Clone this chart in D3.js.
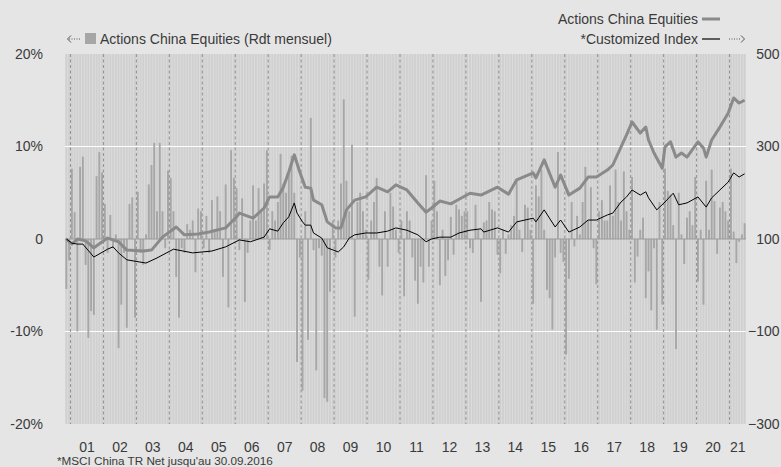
<!DOCTYPE html>
<html><head><meta charset="utf-8">
<script src="https://cdn.jsdelivr.net/npm/d3@7"></script>
<style>
body{margin:0;background:#e5e5e5;}
svg{display:block;font-family:"Liberation Sans",Arial,Helvetica,sans-serif;}
</style></head>
<body><svg id="c" width="781" height="467"></svg>
<script>
// Monthly returns (%) of Actions China Equities, Nov 2000 - Jun 2021
const rdt2000 = [-5.4, -2.3];
const rdt2001 = [7.6, 2.9, -10.0, 7.8, 8.9, -2.8, -10.7, -7.8, -8.2, 6.8, 9.4, 7.2];
const rdt2002 = [3.8, -1.5, 2.6, -1.0, 0.5, -11.8, -7.1, -1.5, -9.6, 3.8, 4.5, -8.5];
const rdt2003 = [5.1, -1.5, -2.8, 0.5, 5.9, 8.0, 10.4, 3.0, 10.4, 3.0, -1.0, 7.4];
const rdt2004 = [6.6, 3.0, -4.1, -8.5, -1.0, -1.5, 1.6, 1.0, 2.0, -3.6, 3.3, 3.0];
const rdt2005 = [-1.0, 2.5, -1.5, 4.2, 1.0, 4.6, 3.0, -4.1, 5.9, -7.4, 9.6, 6.6];
const rdt2006 = [5.5, -1.2, 4.4, -6.8, -1.5, 2.0, 5.8, 2.0, 5.5, 3.0, 6.0, 9.6];
const rdt2007 = [-1.2, 3.0, 2.0, 4.0, 9.2, 6.0, 5.0, 7.0, 9.0, 5.0, -13.3, -2.0];
const rdt2008 = [-16.4, 3.0, -10.9, 13.1, -1.2, -14.2, -1.0, -1.8, -17.2, -17.6, -5.7, 2.0];
const rdt2009 = [-2.0, 2.0, 6.0, 15.1, 6.3, 3.0, 10.2, -8.4, 4.0, 5.0, 3.0, 1.0];
const rdt2010 = [-4.4, 2.0, 4.0, 6.6, -3.0, -6.1, 3.0, -3.0, 5.0, 3.5, 1.0, -1.5];
const rdt2011 = [2.0, -6.2, 3.0, 2.0, -2.0, -4.5, -7.0, -3.0, -4.7, 6.9, -3.0, 2.0];
const rdt2012 = [6.3, 3.0, -5.0, 1.0, -4.0, -2.3, 2.4, -1.7, 3.7, 3.2, 2.5, 3.0];
const rdt2013 = [3.0, -1.0, -1.5, 3.7, 1.0, -6.8, 1.8, 2.0, 4.0, 3.2, 3.0, -1.7];
const rdt2014 = [-3.7, 1.0, -1.6, 0.5, 1.5, 2.5, 6.5, 1.0, -1.4, 3.7, 3.4, 1.0];
const rdt2015 = [-7.0, 5.8, 4.6, 7.5, 1.0, -5.5, -6.4, -9.8, -2.0, 9.4, -1.5, -2.5];
const rdt2016 = [-12.5, -4.3, 4.0, -0.8, 2.5, 0.5, 4.0, 7.8, 2.0, 5.6, -1.0, -4.9];
const rdt2017 = [3.0, 4.2, 2.0, 2.0, 5.8, 2.5, 7.5, 4.0, 2.0, 7.3, 3.0, 1.0];
const rdt2018 = [6.7, -4.7, -1.9, 1.0, 2.3, -6.4, -3.5, -7.7, -1.0, -9.8, 4.0, -7.1];
const rdt2019 = [7.6, 5.2, 4.8, 1.5, -11.9, 5.0, 0.5, -2.7, 2.3, 3.0, 1.5, 6.7];
const rdt2020 = [-4.6, 1.0, -7.1, 6.3, 1.0, 7.5, 4.1, -1.6, 3.4, 4.0, 3.0, 2.0];
const rdt2021 = [7.6, 0.8, -2.6, -0.3, 0.5, 1.7];

// Index lines (base 100), values read at given months
const fundDates = ["2000-11","2001-01","2001-03","2001-06","2001-09","2002-02","2002-06","2002-09","2003-03","2003-06","2003-10","2004-03","2004-06","2004-11","2005-03","2005-09","2006-01","2006-02","2006-07","2006-11","2007-01","2007-04","2007-06","2007-08","2007-10","2007-12","2008-02","2008-04","2008-05","2008-08","2008-10","2009-01","2009-03","2009-05","2009-08","2009-12","2010-04","2010-08","2010-11","2011-03","2011-07","2011-10","2011-12","2012-03","2012-07","2012-10","2013-02","2013-06","2013-12","2014-04","2014-07","2015-01","2015-02","2015-05","2015-09","2015-11","2016-02","2016-06","2016-09","2016-12","2017-04","2017-06","2017-09","2017-11","2018-01","2018-04","2018-06","2018-07","2018-09","2018-12","2019-01","2019-03","2019-05","2019-07","2019-09","2020-01","2020-03","2020-04","2020-06","2020-09","2020-12","2021-02","2021-04","2021-06"];
const fundValues = [100,89,100,96,81,102,94,76,74,76,104,126,109,111,115,124,148,156,145,167,191,191,212,245,282,245,212,210,184,174,137,124,124,163,184,191,212,202,217,206,178,158,167,182,176,186,199,195,212,197,228,243,232,271,212,238,195,210,234,234,249,260,299,325,353,329,342,314,286,253,299,310,277,286,277,310,297,277,314,342,372,405,394,400];
const indexDates = ["2000-11","2001-01","2001-03","2001-05","2001-09","2002-02","2002-04","2002-06","2002-09","2003-04","2003-08","2004-02","2004-09","2005-04","2005-09","2006-02","2006-06","2006-11","2007-01","2007-04","2007-06","2007-08","2007-10","2007-11","2008-01","2008-02","2008-04","2008-05","2008-08","2008-10","2009-02","2009-04","2009-06","2009-08","2009-12","2010-04","2010-08","2010-11","2011-03","2011-07","2011-10","2011-12","2012-03","2012-07","2012-10","2013-02","2013-06","2013-07","2013-12","2014-04","2014-07","2015-01","2015-02","2015-05","2015-09","2015-11","2016-02","2016-06","2016-09","2016-12","2017-04","2017-06","2017-09","2017-11","2018-01","2018-04","2018-06","2018-07","2018-10","2019-01","2019-04","2019-06","2019-09","2020-01","2020-04","2020-06","2020-09","2020-12","2021-02","2021-04","2021-06"];
const indexValues = [100,91,89,89,61,78,83,70,55,48,59,78,70,74,83,98,94,104,122,117,135,148,178,156,137,130,130,113,102,81,72,83,102,109,113,113,117,124,119,109,94,100,104,104,113,119,122,115,124,115,137,145,137,163,126,141,115,126,141,141,152,156,180,191,206,195,202,189,163,180,199,174,178,191,169,189,206,223,243,234,241];

const leftTicks = [-20, -10, 0, 10, 20];
const rightTicks = [-300, -100, 100, 300, 500];
const yearLabels = ["01","02","03","04","05","06","07","08","09","10","11","12","13","14","15","16","17","18","19","20","21"];

// ---------- build
const years = [rdt2000,rdt2001,rdt2002,rdt2003,rdt2004,rdt2005,rdt2006,rdt2007,rdt2008,rdt2009,rdt2010,rdt2011,rdt2012,rdt2013,rdt2014,rdt2015,rdt2016,rdt2017,rdt2018,rdt2019,rdt2020,rdt2021];
const data = [];
years.forEach((arr, k) => {
  const yr = 2000 + k, m0 = k === 0 ? 10 : 0;
  arr.forEach((v, j) => data.push({yr, m: m0 + j, v}));
});
const idxOf = s => { const [y, m] = s.split("-").map(Number); return (y - 2000) * 12 + (m - 1) - 10; };

const svg = d3.select("#c");
const L = 65, R = 746, T = 54, B = 424;
const x = d3.scaleBand().domain(d3.range(data.length)).range([L, R]).paddingInner(0.3).paddingOuter(0.15);
const yL = d3.scaleLinear().domain([-20, 20]).range([B, T]);
const yR = d3.scaleLinear().domain([-300, 500]).range([B, T]);
const cx = i => x(i) + x.bandwidth() / 2;
const step = x.step();
const FS = 14;

// plot background
svg.append("rect").attr("x", L).attr("y", T).attr("width", R - L).attr("height", B - T).attr("fill", "#dedede");
svg.append("g").selectAll("rect").data(data).join("rect")
  .attr("x", (d, i) => x(i)).attr("width", x.bandwidth())
  .attr("y", T).attr("height", B - T).attr("fill", "#d0d0d0");

// grid
svg.append("g").selectAll("line").data([-10, 10]).join("line")
  .attr("x1", L).attr("x2", R).attr("y1", d => yL(d)).attr("y2", d => yL(d))
  .attr("stroke", "#fff").attr("stroke-width", 1);

// bars
svg.append("g").selectAll("rect").data(data).join("rect")
  .attr("x", (d, i) => x(i)).attr("width", x.bandwidth())
  .attr("y", d => yL(Math.max(0, d.v))).attr("height", d => Math.abs(yL(d.v) - yL(0)))
  .attr("fill", "#a6a6a6");

// year separators
const janIdx = data.map((d, i) => d.m === 0 ? i : -1).filter(i => i > 0);
const sepX = i => x(i) - step * 0.15;
svg.append("g").selectAll("line").data(janIdx).join("line")
  .attr("x1", sepX).attr("x2", sepX).attr("y1", T).attr("y2", B)
  .attr("stroke", "#8a8a8a").attr("stroke-width", 0.9).attr("stroke-dasharray", "3,2.5");

// zero line
svg.append("line").attr("x1", L).attr("x2", R).attr("y1", yL(0)).attr("y2", yL(0))
  .attr("stroke", "#999").attr("stroke-width", 1.2);

// lines
const lineGen = d3.line().x(d => cx(d[0])).y(d => yR(d[1]));
svg.append("path").datum(fundDates.map((s, k) => [idxOf(s), fundValues[k]]))
  .attr("d", lineGen).attr("fill", "none").attr("stroke", "#8a8a8a").attr("stroke-width", 3).attr("stroke-linejoin", "round");
svg.append("path").datum(indexDates.map((s, k) => [idxOf(s), indexValues[k]]))
  .attr("d", lineGen).attr("fill", "none").attr("stroke", "#000").attr("stroke-width", 1).attr("stroke-linejoin", "round");

// axes
const txt = "#3a3a3a";
const gl = svg.append("g").attr("transform", "translate(43,0)")
  .call(d3.axisLeft(yL).tickValues(leftTicks).tickSize(0).tickPadding(0).tickFormat(d => d === 0 ? "0" : d + "%"));
gl.select(".domain").remove();
gl.selectAll("text").attr("font-size", FS).attr("fill", txt).attr("font-family", "Liberation Sans, Arial, sans-serif");
const gr = svg.append("g").attr("transform", "translate(779.5,0)")
  .call(d3.axisRight(yR).tickValues(rightTicks).tickSize(0).tickPadding(0));
gr.select(".domain").remove();
gr.selectAll("text").attr("font-size", FS).attr("fill", txt).attr("text-anchor", "end").attr("font-family", "Liberation Sans, Arial, sans-serif");

// year labels
const bounds = [L, ...janIdx.map(sepX), R];
svg.append("g").selectAll("text").data(yearLabels).join("text")
  .attr("x", (d, k) => (bounds[k + 1] + bounds[k + 2]) / 2).attr("y", 452)
  .attr("text-anchor", "middle").attr("font-size", FS).attr("fill", txt).text(d => d);

// footnote
svg.append("text").attr("x", 57).attr("y", 465).attr("font-size", 11.7).attr("fill", txt)
  .text("*MSCI China TR Net jusqu'au 30.09.2016");

// legend left
const lg = svg.append("g");
lg.append("path").attr("d", "M71,35.5 L67.5,39 L71,42.5").attr("fill", "none").attr("stroke", "#555").attr("stroke-width", 1);
lg.append("line").attr("x1", 69).attr("x2", 80).attr("y1", 39).attr("y2", 39).attr("stroke", "#555").attr("stroke-width", 1).attr("stroke-dasharray", "1,1.5");
lg.append("rect").attr("x", 85).attr("y", 33).attr("width", 11).attr("height", 11).attr("fill", "#a6a6a6");
lg.append("text").attr("x", 100).attr("y", 44).attr("font-size", FS).attr("fill", txt).text("Actions China Equities (Rdt mensuel)");

// legend right
const rg = svg.append("g");
rg.append("text").attr("x", 698).attr("y", 23.5).attr("text-anchor", "end").attr("font-size", FS).attr("fill", txt).text("Actions China Equities");
rg.append("line").attr("x1", 702).attr("x2", 720).attr("y1", 19).attr("y2", 19).attr("stroke", "#8a8a8a").attr("stroke-width", 3);
rg.append("text").attr("x", 698).attr("y", 43.5).attr("text-anchor", "end").attr("font-size", FS).attr("fill", txt).text("*Customized Index");
rg.append("line").attr("x1", 702).attr("x2", 720).attr("y1", 39).attr("y2", 39).attr("stroke", "#000").attr("stroke-width", 1.2);
rg.append("line").attr("x1", 729).attr("x2", 741).attr("y1", 39).attr("y2", 39).attr("stroke", "#555").attr("stroke-width", 1).attr("stroke-dasharray", "1,1.5");
rg.append("path").attr("d", "M741,35.5 L744.5,39 L741,42.5").attr("fill", "none").attr("stroke", "#555").attr("stroke-width", 1);
</script></body></html>
